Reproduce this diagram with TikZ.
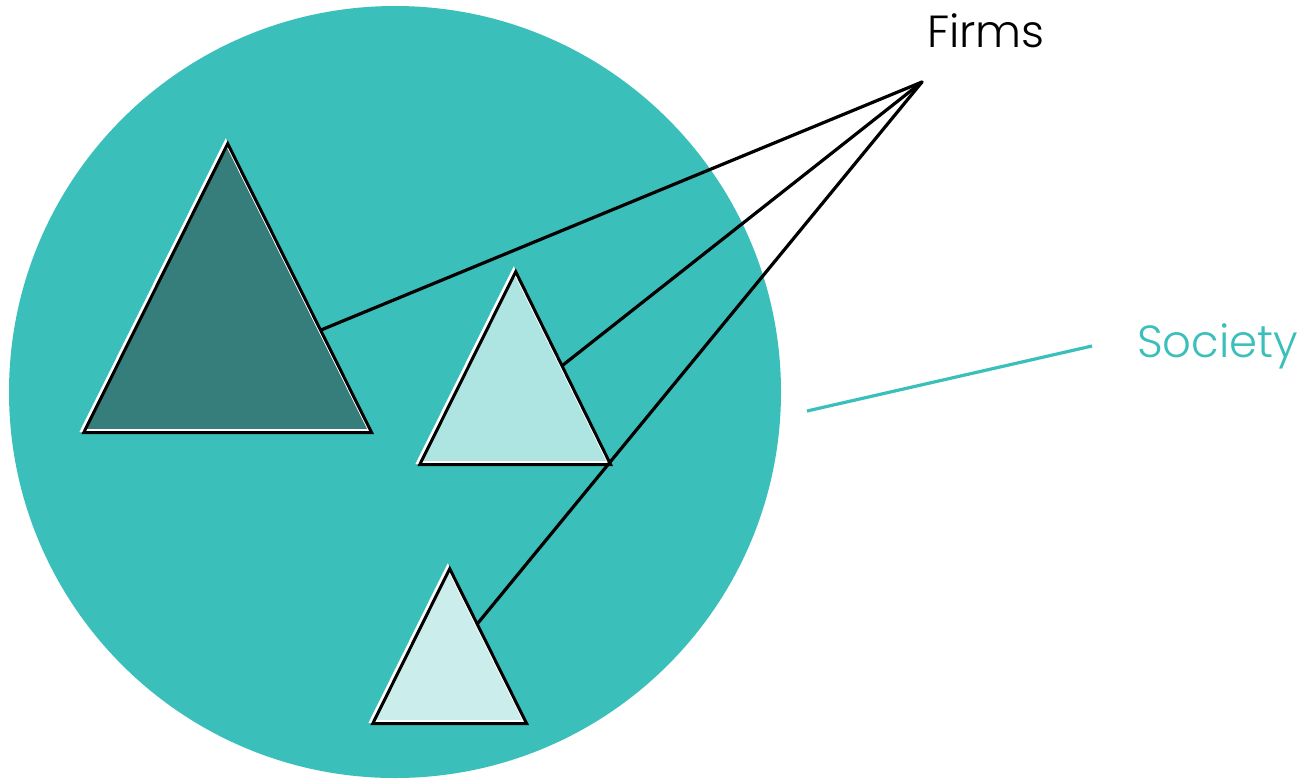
\documentclass[tikz,border=0pt]{standalone}
\usepackage{fontspec}
\setmainfont{Poppins Light}
\definecolor{teal1}{HTML}{3BBFBA}
\definecolor{tdark}{HTML}{357E7B}
\definecolor{tmid}{HTML}{AEE5E2}
\definecolor{tlight}{HTML}{CBEEEC}
\begin{document}
\begin{tikzpicture}[x=1pt,y=-1pt,
  link/.style={line width=3.2pt,black,line cap=round},
  socline/.style={line width=3.2pt,teal1},
  tri/.style={line width=3pt,black,line join=miter},
  triw/.style={line width=3pt,white,line join=miter},
  lbl/.style={font=\fontsize{45}{45}\selectfont,inner sep=0pt,anchor=base west}]
\useasboundingbox (0,0) rectangle (1307,780);
\fill[white] (0,0) rectangle (1307,780);
\fill[teal1] (395,392) ellipse [x radius=386, y radius=386];
% triangle corners
\coordinate (aA) at (227,143); \coordinate (aB) at (83,432); \coordinate (aC) at (371,432);
\coordinate (bA) at (515,271); \coordinate (bB) at (419,464); \coordinate (bC) at (610,464);
\coordinate (cA) at (449,568); \coordinate (cB) at (372,723); \coordinate (cC) at (526,723);
\foreach \t/\c in {a/tdark,b/tmid,c/tlight}{
  \draw[triw,fill=\c] ([shift={(-1.3,-1.3)}]\t A) -- ([shift={(-1.3,-1.3)}]\t B) -- ([shift={(-1.3,-1.3)}]\t C) -- cycle;
  \draw[tri] ([shift={(0.7,0.7)}]\t A) -- ([shift={(0.7,0.7)}]\t B) -- ([shift={(0.7,0.7)}]\t C) -- cycle;
}
\coordinate (hub) at (922,82);
\coordinate (ea) at (321,330);
\coordinate (eb) at (563,365);
\coordinate (ec) at (478,623);
\draw[link] (hub) -- (ea);
\draw[link] (hub) -- (eb);
\draw[link] (hub) -- (ec);
\coordinate (s1) at (807,411);
\coordinate (s2) at (1092,346);
\draw[socline] (s1) -- (s2);
\node[lbl] (firms) at (927,47) {Firms};
\node[lbl,text=teal1] (society) at (1137,357) {Society};
\end{tikzpicture}
\end{document}
